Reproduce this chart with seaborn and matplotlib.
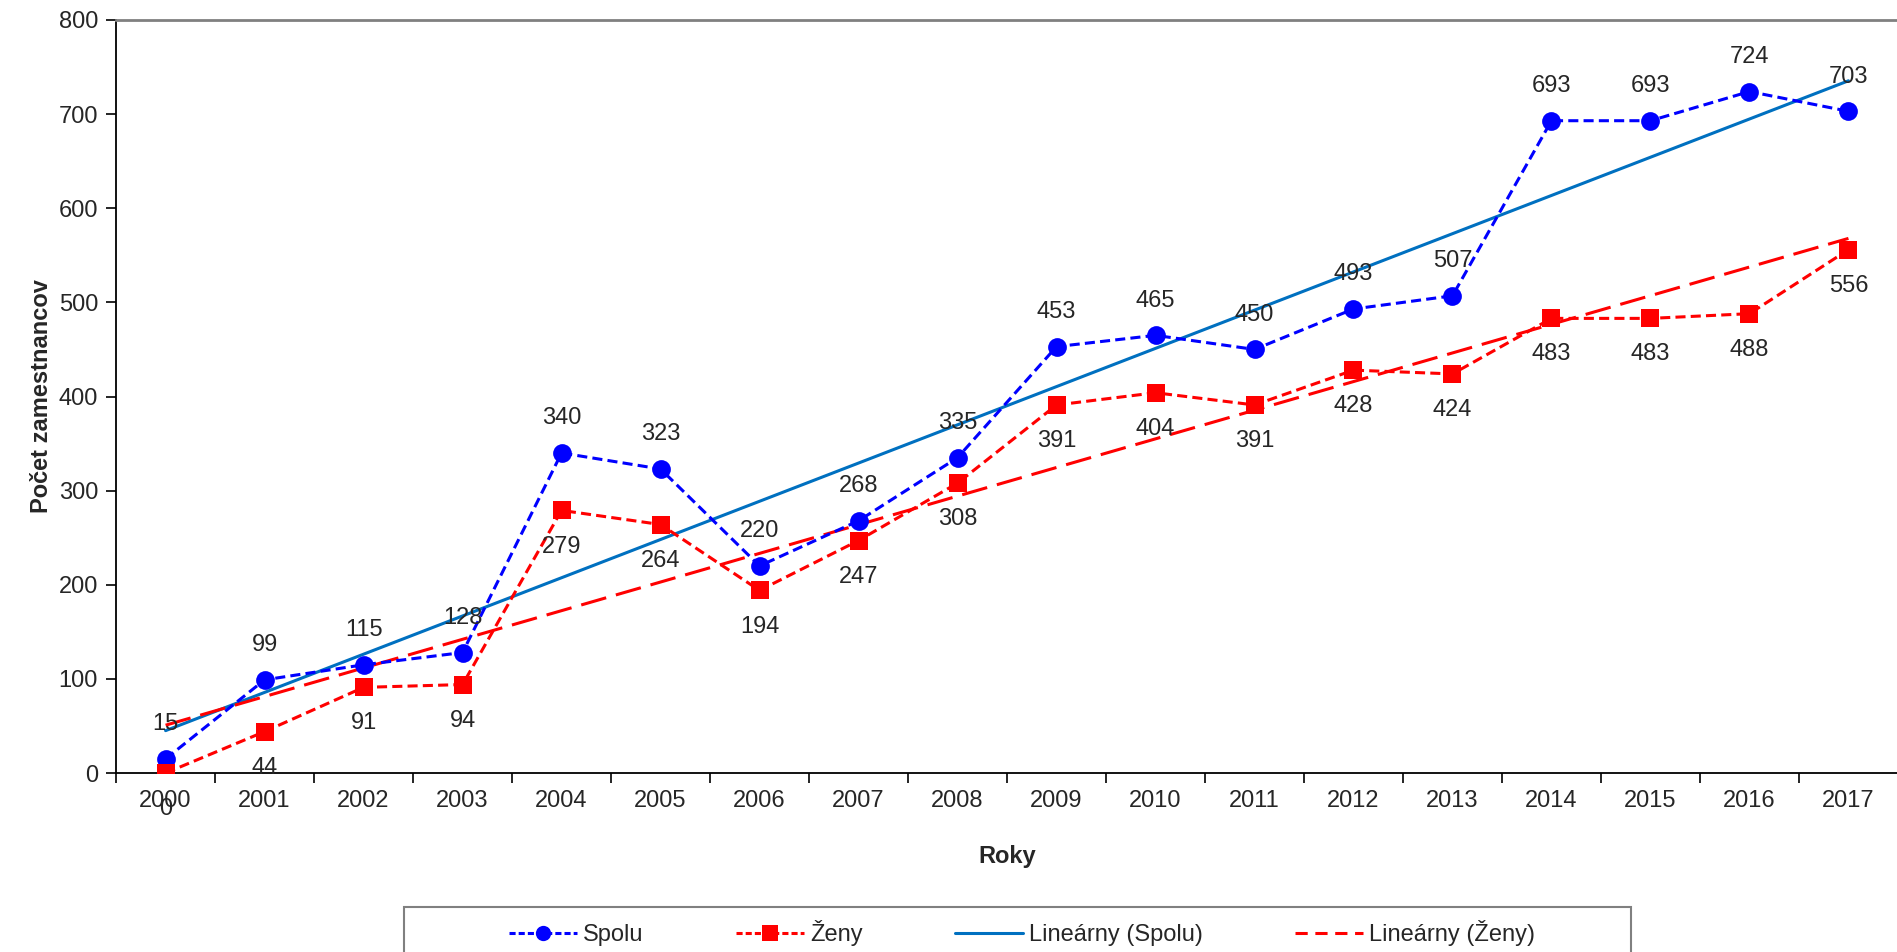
import numpy as np
import matplotlib
matplotlib.use("Agg")
import matplotlib.pyplot as plt
import seaborn as sns
from matplotlib.patches import Rectangle
from matplotlib.lines import Line2D

years = ["2000", "2001", "2002", "2003", "2004", "2005", "2006", "2007", "2008",
         "2009", "2010", "2011", "2012", "2013", "2014", "2015", "2016", "2017"]
spolu = [15, 99, 115, 128, 340, 323, 220, 268, 335, 453, 465, 450, 493, 507, 693, 693, 724, 703]
zeny = [0, 44, 91, 94, 279, 264, 194, 247, 308, 391, 404, 391, 428, 424, 483, 483, 488, 556]

sns.set_style("ticks")
plt.rcParams["font.family"] = ["Liberation Sans", "DejaVu Sans"]
plt.rcParams["font.size"] = 17

blue = "#0000FF"
red = "#FF0000"
trend_blue = "#0070C0"

x = np.arange(len(years))

fig = plt.figure(figsize=(18.97, 9.52), dpi=100)
ax = fig.add_axes([0.0612, 0.188, 0.9393, 0.791])

# trend lines
sns.regplot(x=x, y=spolu, ax=ax, scatter=False, ci=None, truncate=True,
            line_kws=dict(color=trend_blue, lw=2.2, zorder=2))
sns.regplot(x=x, y=zeny, ax=ax, scatter=False, ci=None, truncate=True,
            line_kws=dict(color=red, lw=2.2, dashes=(8.5, 3.3), zorder=2))

# data lines
sns.lineplot(x=x, y=spolu, ax=ax, color=blue, lw=2.2, marker="o", markersize=13.5,
             markeredgewidth=0, dashes=False, zorder=3)
ax.lines[-1].set_dashes((3.3, 1.7))
sns.lineplot(x=x, y=zeny, ax=ax, color=red, lw=2.2, marker="s", markersize=13,
             markeredgewidth=0, dashes=False, zorder=3)
ax.lines[-1].set_dashes((3.3, 1.7))

for i in range(len(years)):
    ax.annotate(str(spolu[i]), (x[i], spolu[i]), xytext=(0, 25), textcoords="offset points",
                ha="center", va="center", fontsize=17, zorder=5)
    ax.annotate(str(zeny[i]), (x[i], zeny[i]), xytext=(0, -26), textcoords="offset points",
                ha="center", va="center", fontsize=17, zorder=5)

ax.set_xlim(-0.5, len(years) - 0.5)
ax.set_ylim(0, 800)
ax.set_yticks(range(0, 801, 100))
ax.set_xticks(x)
ax.set_xticklabels(years)
ax.set_xticks(np.arange(-0.5, len(years), 1), minor=True)
ax.tick_params(axis="x", which="major", length=0, pad=12, labelsize=17)
ax.tick_params(axis="x", which="minor", length=7, width=1.2, color="black")
ax.tick_params(axis="y", length=7, width=1.2, color="black", labelsize=17, pad=6)

for s in ["left", "bottom"]:
    ax.spines[s].set_color("black")
    ax.spines[s].set_linewidth(1.3)
ax.spines["top"].set_color("#808080")
ax.spines["top"].set_linewidth(2)
ax.spines["right"].set_visible(False)

ax.set_xlabel("Roky", fontsize=17, fontweight="bold", labelpad=24)
ax.set_ylabel("Počet zamestnancov", fontsize=17, fontweight="bold", labelpad=4)

# legend
handles = [
    Line2D([], [], color=blue, lw=2.2, dashes=(2, 1), marker="o", markersize=11, markeredgewidth=0),
    Line2D([], [], color=red, lw=2.2, dashes=(2, 1), marker="s", markersize=11, markeredgewidth=0),
    Line2D([], [], color=trend_blue, lw=2.2),
    Line2D([], [], color=red, lw=2.2, dashes=(4, 2.5)),
]
labels = ["Spolu", "Ženy", "Lineárny (Spolu)", "Lineárny (Ženy)"]
fig.legend(handles, labels, ncol=4, loc="center", bbox_to_anchor=(1022 / 1897, 1 - 933 / 952),
           frameon=False, fontsize=17, handlelength=2.9, handletextpad=0.25, columnspacing=3.9)
fig.patches.append(Rectangle((404 / 1897, -0.05), (1631 - 404) / 1897, 0.05 + 1 - 907 / 952,
                             transform=fig.transFigure, fill=False, edgecolor="#808080", lw=1.5))

fig.savefig("out.png", dpi=100)
